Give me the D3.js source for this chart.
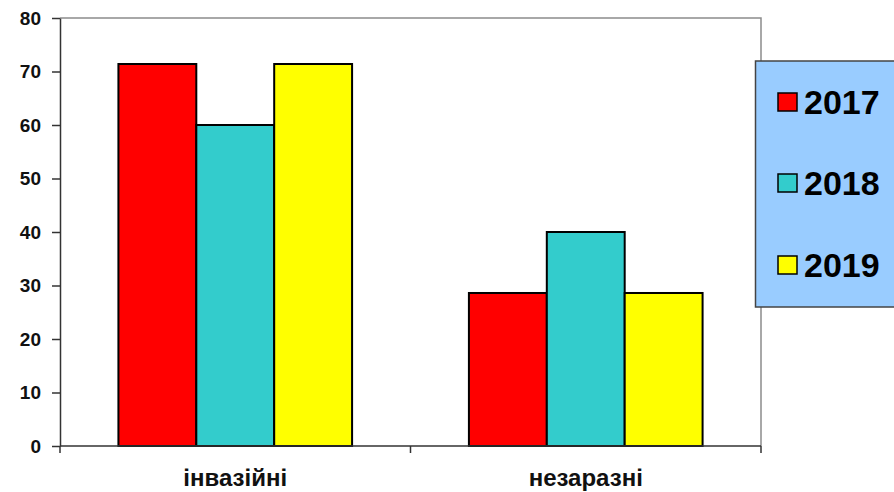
<!DOCTYPE html>
<html>
<head>
<meta charset="utf-8">
<script src="https://cdn.jsdelivr.net/npm/d3@7"></script>
<style>
  html, body { margin: 0; padding: 0; background: #fff; }
  svg { display: block; font-family: Arial, "Liberation Sans", sans-serif; }
</style>
</head>
<body>
<svg id="chart" width="894" height="492"></svg>
<script>
// Categories, series and axis ticks
const categories = ["інвазійні", "незаразні"];
const years = ["2017", "2018", "2019"];
const values2017 = [71.4, 28.6];
const values2018 = [60.0, 40.0];
const values2019 = [71.4, 28.6];
const yTicks = [0, 10, 20, 30, 40, 50, 60, 70, 80];
const colors = ["#FF0000", "#33CCCC", "#FFFF00"];

const series = [values2017, values2018, values2019];

const svg = d3.select("#chart");
const plotLeft = 60, plotRight = 761, plotTop = 18, plotBottom = 446;

const x0 = d3.scaleBand().domain(categories).range([plotLeft, plotRight]).paddingInner(0).paddingOuter(0);
const x1 = d3.scaleBand().domain(years).range([0, x0.bandwidth()]).paddingInner(0).paddingOuter(0.75);
const y = d3.scaleLinear().domain([0, 80]).range([plotBottom, plotTop]);

// Plot frame (top and right edges)
svg.append("path")
  .attr("d", `M${plotLeft},${plotTop}H${plotRight}V${plotBottom}`)
  .attr("fill", "none")
  .attr("stroke", "#8c8c8c")
  .attr("stroke-width", 1.5);

// Bars
categories.forEach((cat, ci) => {
  const g = svg.append("g").attr("transform", `translate(${x0(cat)},0)`);
  years.forEach((yr, si) => {
    const v = series[si][ci];
    g.append("rect")
      .attr("x", x1(yr))
      .attr("y", y(v))
      .attr("width", x1.bandwidth())
      .attr("height", y(0) - y(v))
      .attr("fill", colors[si])
      .attr("stroke", "#000")
      .attr("stroke-width", 2);
  });
});

// Y axis
const yAxis = svg.append("g")
  .attr("transform", `translate(${plotLeft},0)`)
  .call(d3.axisLeft(y).tickValues(yTicks).tickSize(8).tickPadding(11).tickSizeOuter(0));
yAxis.select(".domain").attr("stroke", "#333").attr("stroke-width", 1.5);
yAxis.selectAll(".tick line").attr("stroke", "#333").attr("stroke-width", 1.5);
yAxis.selectAll(".tick text")
  .attr("fill", "#111")
  .style("font-size", "19px")
  .style("font-weight", "bold");

// X axis with ticks at category boundaries
const xAxis = svg.append("g")
  .attr("transform", `translate(0,${plotBottom})`);
xAxis.append("line")
  .attr("x1", plotLeft).attr("x2", plotRight)
  .attr("stroke", "#333").attr("stroke-width", 1.5);
const bounds = categories.map(c => x0(c)).concat([x0(categories[categories.length - 1]) + x0.bandwidth()]);
xAxis.selectAll(".xtick").data(bounds).enter().append("line")
  .attr("x1", d => d).attr("x2", d => d)
  .attr("y1", 0).attr("y2", 7)
  .attr("stroke", "#333").attr("stroke-width", 1.5);
xAxis.selectAll(".xlabel").data(categories).enter().append("text")
  .attr("x", d => x0(d) + x0.bandwidth() / 2)
  .attr("y", 40)
  .attr("text-anchor", "middle")
  .attr("fill", "#111")
  .style("font-size", "24px")
  .style("font-weight", "bold")
  .text(d => d);

// Legend
const legend = svg.append("g");
legend.append("rect")
  .attr("x", 755.5).attr("y", 61)
  .attr("width", 150).attr("height", 246)
  .attr("fill", "#99CCFF")
  .attr("stroke", "#444")
  .attr("stroke-width", 1.5);
const rowY = [102, 183, 265];
years.forEach((yr, i) => {
  legend.append("rect")
    .attr("x", 778).attr("y", rowY[i] - 9)
    .attr("width", 19).attr("height", 18)
    .attr("fill", colors[i])
    .attr("stroke", "#000")
    .attr("stroke-width", 1.5);
  legend.append("text")
    .attr("x", 804).attr("y", rowY[i] + 12)
    .attr("fill", "#000")
    .style("font-size", "34px")
    .style("font-weight", "bold")
    .text(yr);
});
</script>
</body>
</html>
